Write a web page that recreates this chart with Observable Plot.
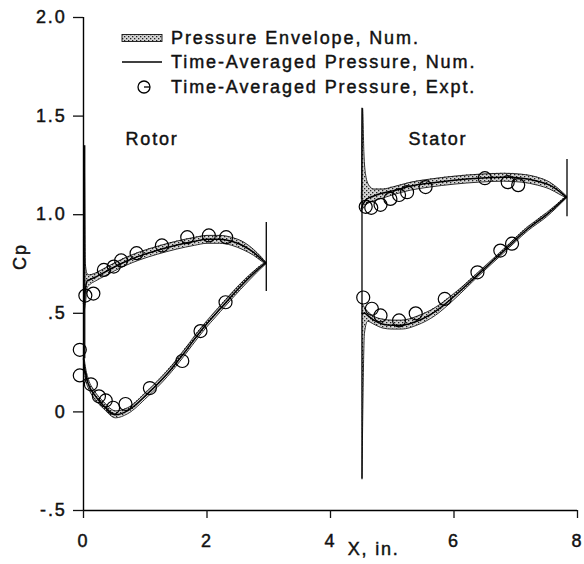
<!DOCTYPE html>
<html><head><meta charset="utf-8">
<script src="https://cdn.jsdelivr.net/npm/d3@7"></script>
<script src="https://cdn.jsdelivr.net/npm/@observablehq/plot@0.6"></script>
<style>
body{margin:0;background:#fff;}
#chart{position:relative;width:584px;height:564px;}
#chart svg text{stroke:#111;stroke-width:0.45px;}
</style></head><body>
<svg width="0" height="0" style="position:absolute">
<defs><pattern id="stipple" patternUnits="userSpaceOnUse" width="4" height="4">
<rect width="4" height="4" fill="#d4d4d4"/><rect x="0" y="0" width="1.3" height="1.3" fill="#222"/><rect x="2" y="2" width="1.3" height="1.3" fill="#222"/></pattern></defs></svg>
<div id="chart"></div>
<script>
// ---- Rotor suction side (upper curve) ----
const rotorUpperX    = [0.00, 0.01, 0.03, 0.06, 0.10, 0.20, 0.35, 0.50, 0.70, 0.90, 1.20, 1.50, 1.80, 2.00, 2.20, 2.40, 2.60, 2.75, 2.88, 2.95];
const rotorUpperMean = [0.55, 0.56, 0.62, 0.665, 0.67, 0.685, 0.71, 0.735, 0.765, 0.79, 0.82, 0.845, 0.865, 0.875, 0.875, 0.865, 0.84, 0.81, 0.775, 0.755];
const rotorUpperLo   = [0.50, 0.51, 0.55, 0.63, 0.645, 0.665, 0.69, 0.715, 0.745, 0.77, 0.80, 0.825, 0.845, 0.855, 0.855, 0.845, 0.82, 0.795, 0.765, 0.75];
const rotorUpperHi   = [0.60, 1.35, 0.75, 0.70, 0.695, 0.705, 0.73, 0.755, 0.785, 0.81, 0.84, 0.865, 0.885, 0.895, 0.895, 0.885, 0.86, 0.825, 0.785, 0.76];
// ---- Rotor pressure side (lower curve) ----
const rotorLowerX    = [0.00, 0.03, 0.08, 0.17, 0.33, 0.52, 0.71, 1.03, 1.36, 1.62, 1.90, 2.22, 2.54, 2.80, 2.95];
const rotorLowerMean = [0.27, 0.20, 0.14, 0.09, 0.03, -0.015, 0.005, 0.09, 0.195, 0.295, 0.41, 0.525, 0.635, 0.715, 0.755];
const rotorLowerLo   = [0.24, 0.17, 0.12, 0.07, 0.015, -0.03, -0.01, 0.075, 0.18, 0.28, 0.395, 0.51, 0.62, 0.705, 0.75];
const rotorLowerHi   = [0.30, 0.23, 0.165, 0.11, 0.05, 0.005, 0.02, 0.105, 0.21, 0.31, 0.425, 0.54, 0.65, 0.725, 0.76];
// ---- Stator suction side (upper curve) ----
const statorUpperX    = [4.50, 4.52, 4.54, 4.57, 4.62, 4.70, 4.85, 5.00, 5.30, 5.60, 6.00, 6.40, 6.80, 7.10, 7.35, 7.55, 7.70, 7.82];
const statorUpperMean = [1.03, 1.05, 1.06, 1.075, 1.085, 1.095, 1.11, 1.12, 1.145, 1.16, 1.175, 1.185, 1.19, 1.185, 1.17, 1.15, 1.12, 1.09];
const statorUpperLo   = [1.02, 1.03, 1.04, 1.05, 1.06, 1.07, 1.085, 1.10, 1.125, 1.14, 1.155, 1.165, 1.17, 1.165, 1.15, 1.13, 1.105, 1.085];
const statorUpperHi   = [1.08, 1.54, 1.32, 1.20, 1.15, 1.13, 1.13, 1.14, 1.165, 1.18, 1.195, 1.205, 1.21, 1.205, 1.19, 1.165, 1.13, 1.095];
// ---- Stator pressure side (lower curve) ----
const statorLowerX    = [4.51, 4.55, 4.60, 4.70, 4.85, 5.00, 5.15, 5.40, 5.70, 6.00, 6.40, 6.80, 7.20, 7.50, 7.82];
const statorLowerMean = [0.50, 0.50, 0.49, 0.465, 0.445, 0.44, 0.44, 0.46, 0.51, 0.585, 0.70, 0.815, 0.93, 1.00, 1.09];
const statorLowerLo   = [-0.34, 0.40, 0.46, 0.445, 0.425, 0.42, 0.42, 0.44, 0.49, 0.57, 0.69, 0.805, 0.92, 0.99, 1.085];
const statorLowerHi   = [0.55, 0.53, 0.51, 0.485, 0.47, 0.465, 0.465, 0.485, 0.53, 0.60, 0.71, 0.825, 0.94, 1.01, 1.095];
// ---- Leading / trailing edge envelope lines ----
const edgeX  = [0.02, 2.96, 4.51, 7.83];
const edgeLo = [0.27, 0.61, -0.34, 0.99];
const edgeHi = [1.35, 0.96, 1.54, 1.28];
// ---- Experimental time-averaged pressure ----
const rotorExptX  = [0.03, 0.16, 0.33, 0.49, 0.61, 0.86, 1.27, 1.68, 2.03, 2.31, -0.06, -0.06, 0.12, 0.25, 0.36, 0.48, 0.68, 1.075, 1.60, 1.895, 2.30];
const rotorExptCp = [0.59, 0.60, 0.72, 0.737, 0.768, 0.805, 0.844, 0.886, 0.895, 0.886, 0.315, 0.185, 0.14, 0.079, 0.058, 0.021, 0.04, 0.121, 0.258, 0.41, 0.556];
const statorExptX  = [4.57, 4.66, 4.81, 4.97, 5.11, 5.24, 5.54, 6.50, 6.87, 7.04, 4.53, 4.67, 4.81, 5.11, 5.38, 5.85, 6.38, 6.75, 6.94];
const statorExptCp = [1.04, 1.035, 1.05, 1.08, 1.10, 1.114, 1.14, 1.185, 1.165, 1.15, 0.58, 0.523, 0.489, 0.464, 0.50, 0.573, 0.708, 0.818, 0.853];
// ---- Labels ----
const bladeNames = ["Rotor", "Stator"];
const bladeLabelX = [1.11, 5.74];
const bladeLabelCp = [1.383, 1.383];
const xTickValues = [0, 2, 4, 6, 8];
const xTickLabels = ["0", "2", "4", "6", "8"];
const yTickValues = [-0.5, 0, 0.5, 1.0, 1.5, 2.0];
const yTickLabels = ["-.5", "0", ".5", "1.0", "1.5", "2.0"];
const legendLabels = ["Pressure Envelope, Num.", "Time-Averaged Pressure, Num.", "Time-Averaged Pressure, Expt."];

function series(part, xs, mean, lo, hi) {
  return xs.map((x, i) => ({part, x, mean: mean[i], lo: lo[i], hi: hi[i]}));
}
const env = [
  ...series("rotorUpper", rotorUpperX, rotorUpperMean, rotorUpperLo, rotorUpperHi),
  ...series("rotorLower", rotorLowerX, rotorLowerMean, rotorLowerLo, rotorLowerHi),
  ...series("statorUpper", statorUpperX, statorUpperMean, statorUpperLo, statorUpperHi),
  ...series("statorLower", statorLowerX, statorLowerMean, statorLowerLo, statorLowerHi)
];
const edges = edgeX.map((x, i) => ({x, lo: edgeLo[i], hi: edgeHi[i]}));
const expt = [
  ...rotorExptX.map((x, i) => ({x, cp: rotorExptCp[i]})),
  ...statorExptX.map((x, i) => ({x, cp: statorExptCp[i]}))
];
const blades = bladeNames.map((name, i) => ({name, x: bladeLabelX[i], cp: bladeLabelCp[i]}));

const FONT = "'Liberation Sans', Arial, Helvetica, sans-serif";
const curve = "monotone-x";

const chart = Plot.plot({
  width: 584,
  height: 564,
  marginLeft: 83,
  marginRight: 7,
  marginTop: 17,
  marginBottom: 54,
  style: {fontFamily: FONT, fontSize: "18px", fontWeight: "normal", letterSpacing: "1.8px", color: "#111", background: "#fff", overflow: "visible"},
  x: {domain: [0, 8]},
  y: {domain: [-0.5, 2]},
  marks: [
    Plot.areaY(env, {x: "x", y1: "lo", y2: "hi", z: "part", fill: "url(#stipple)", curve}),
    Plot.line(env, {x: "x", y: "lo", z: "part", stroke: "#111", strokeWidth: 0.9, curve}),
    Plot.line(env, {x: "x", y: "hi", z: "part", stroke: "#111", strokeWidth: 0.9, curve}),
    Plot.line(env, {x: "x", y: "mean", z: "part", stroke: "#000", strokeWidth: 1.5, curve}),
    Plot.ruleX(edges, {x: "x", y1: "lo", y2: "hi", stroke: "#000", strokeWidth: 1.3}),
    Plot.dot(expt, {x: "x", y: "cp", r: 6.5, stroke: "#000", strokeWidth: 1.2, fill: "none"}),
    Plot.text(blades, {x: "x", y: "cp", text: "name", fontSize: 18, fill: "#111"}),
    Plot.ruleX([0], {y1: -0.5, y2: 2, stroke: "#000", strokeWidth: 1.4}),
    Plot.ruleY([-0.5], {x1: 0, x2: 8, stroke: "#000", strokeWidth: 1.4}),
    Plot.axisY({ticks: yTickValues, tickFormat: d => yTickLabels[yTickValues.indexOf(d)], tickSize: 10, tickPadding: 7, label: null, strokeWidth: 1.3}),
    Plot.axisX({ticks: xTickValues, tickFormat: d => xTickLabels[xTickValues.indexOf(d)], tickSize: 8, tickPadding: 16, label: null, strokeWidth: 1.3}),
    Plot.text(["X, in."], {frameAnchor: "bottom", x: [4.7], dy: 44, fontSize: 18, fill: "#111"}),
    Plot.text(["Cp"], {frameAnchor: "left", y: [0.72], dx: -63, rotate: -90, fontSize: 18, fill: "#111"})
  ]
});
document.getElementById("chart").appendChild(chart);

// Legend (drawn into the plot svg)
const svg = d3.select(chart);
const lg = svg.append("g").attr("font-family", FONT).attr("font-size", 18).attr("letter-spacing", "1.9px")
  .attr("text-anchor", "start").attr("fill", "#111");
const rowsY = [38, 62, 87];
lg.append("rect").attr("x", 122).attr("y", rowsY[0] - 3.5).attr("width", 40).attr("height", 7)
  .attr("fill", "url(#stipple)").attr("stroke", "#111").attr("stroke-width", 0.9);
lg.append("line").attr("x1", 122).attr("x2", 162).attr("y1", rowsY[1]).attr("y2", rowsY[1]).attr("stroke", "#000").attr("stroke-width", 1.5);
lg.append("circle").attr("cx", 144).attr("cy", rowsY[2]).attr("r", 6).attr("fill", "none").attr("stroke", "#000").attr("stroke-width", 1.3);
lg.append("line").attr("x1", 144).attr("x2", 150).attr("y1", rowsY[2]).attr("y2", rowsY[2]).attr("stroke", "#000").attr("stroke-width", 1.3);
legendLabels.forEach((t, i) => {
  lg.append("text").attr("x", 171).attr("y", rowsY[i]).attr("dy", "0.35em").text(t);
});
</script>
</body></html>
